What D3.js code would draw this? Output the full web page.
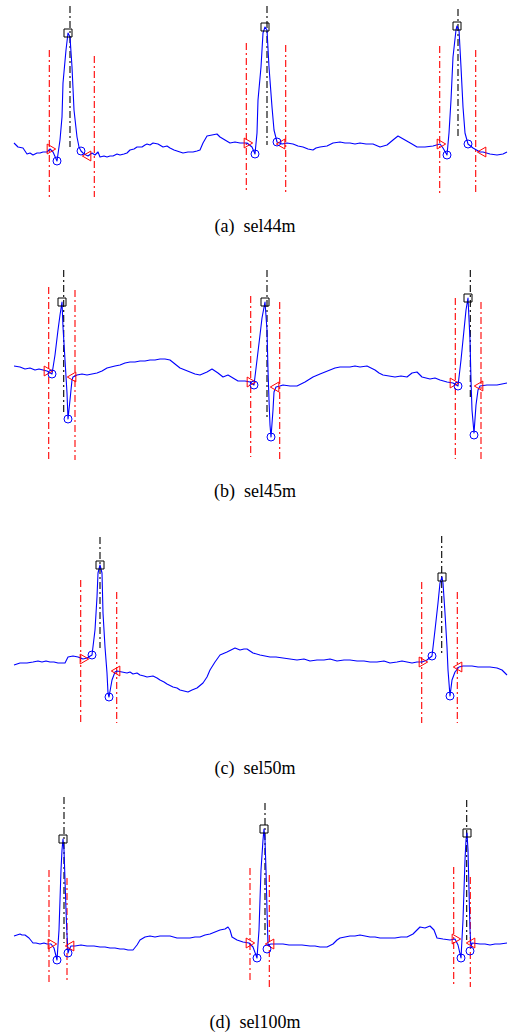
<!DOCTYPE html>
<html>
<head>
<meta charset="utf-8">
<script src="https://cdn.jsdelivr.net/npm/d3@7/dist/d3.min.js"></script>
<style>
  html, body { margin: 0; padding: 0; background: #fff; }
  svg { display: block; }
</style>
</head>
<body>
<svg id="fig" width="509" height="1034"></svg>
<script>
// ECG delineation results: signal in samples / mV, with detected wave points
// (onset, Q, R, S, offset) and the reference boundary / peak lines.

const captions = ["(a)  sel44m", "(b)  sel45m", "(c)  sel50m", "(d)  sel100m"];

// ---- sel44m ----
const sigA = [[0,0.07],[4,0.03],[9,0.02],[13,-0.04],[16,-0.03],[19,-0.05],[23,-0.03],[26,-0.03],[29,-0.02],[33,-0.02],[36,0.01],[39,-0.02],[43,-0.11],[46,0.10],[48,0.33],[49,0.67],[52,1.00],[54,1.17],[56,1.13],[58,0.83],[60,0.40],[63,0.13],[65,0.03],[67,-0.01],[69,-0.03],[72,-0.05],[74,-0.06],[78,-0.03],[81,-0.05],[84,-0.02],[86,-0.07],[90,-0.06],[93,-0.07],[96,-0.06],[99,-0.06],[103,-0.04],[106,-0.05],[110,-0.04],[113,-0.03],[116,0.00],[120,0.01],[123,0.03],[128,0.03],[131,0.05],[133,0.06],[136,0.05],[139,0.07],[144,0.06],[149,0.03],[153,0.04],[156,0.02],[160,0.00],[163,-0.01],[166,-0.02],[169,-0.03],[174,-0.02],[179,-0.02],[183,-0.01],[186,0.00],[189,0.07],[193,0.14],[198,0.15],[203,0.16],[206,0.13],[211,0.10],[216,0.07],[221,0.08],[226,0.07],[233,0.07],[238,0.03],[241,-0.04],[243,0.17],[244,0.50],[247,0.83],[249,1.17],[251,1.23],[253,1.20],[255,0.83],[258,0.43],[260,0.20],[263,0.08],[268,0.06],[273,0.07],[279,0.06],[284,0.04],[289,0.03],[294,0.01],[299,0.00],[302,0.02],[306,0.03],[313,0.04],[319,0.07],[326,0.08],[331,0.07],[336,0.07],[341,0.06],[346,0.07],[352,0.06],[359,0.06],[366,0.03],[373,0.05],[379,0.10],[384,0.14],[391,0.10],[398,0.06],[403,0.03],[411,0.03],[419,0.04],[426,0.06],[429,0.02],[433,-0.05],[435,0.17],[437,0.50],[439,0.93],[442,1.20],[443,1.24],[445,1.20],[447,0.83],[449,0.43],[451,0.17],[454,0.06],[459,0.02],[466,-0.02],[469,-0.02],[476,-0.04],[483,-0.05],[489,-0.04],[493,-0.02]];
const onA  = [[36,0.01],[233,0.07],[426,0.06]];
const qA   = [[43,-0.11],[241,-0.04],[433,-0.05]];
const rA   = [[54,1.17],[251,1.23],[443,1.24]];
const sA   = [[67,-0.01],[263,0.08],[454,0.06]];
const offA = [[74,-0.06],[268,0.06],[469,-0.02]];
// boundary lines: [sample, top mV, bottom mV]
const bndA  = [[35.3,1.00,-0.47],[80.3,0.94,-0.47],[232.3,1.07,-0.40],[271.7,1.05,-0.42],[425.7,1.04,-0.43],[461.7,1.00,-0.45]];
const peakA = [[56,1.44,0.03],[253,1.44,0.05],[444,1.41,0.12]];

// ---- sel45m ----
const sigB = [[0,0.09],[6,0.08],[11,0.06],[16,0.07],[21,0.05],[25,0.06],[29,0.05],[33,0.04],[38,0.01],[41,0.20],[44,0.45],[46,0.60],[48,0.73],[49,0.48],[51,0.15],[53,-0.18],[54,-0.44],[56,-0.25],[58,-0.05],[59,-0.02],[63,0.00],[68,0.01],[73,0.00],[78,0.01],[83,0.02],[88,0.04],[93,0.07],[97,0.08],[101,0.09],[106,0.10],[111,0.12],[116,0.13],[121,0.13],[126,0.14],[131,0.14],[136,0.15],[141,0.15],[146,0.16],[151,0.16],[156,0.15],[161,0.11],[166,0.07],[171,0.05],[176,0.03],[181,0.01],[186,0.00],[193,0.03],[198,0.06],[204,0.02],[209,-0.02],[214,0.00],[219,-0.03],[224,-0.06],[231,-0.06],[236,-0.07],[240,-0.10],[243,0.15],[246,0.40],[248,0.57],[251,0.73],[253,0.45],[254,0.05],[255,-0.25],[256,-0.50],[257,-0.62],[259,-0.35],[260,-0.17],[262,-0.12],[266,-0.11],[269,-0.10],[276,-0.11],[283,-0.11],[291,-0.07],[299,-0.02],[306,0.01],[311,0.03],[316,0.05],[321,0.07],[326,0.08],[331,0.08],[336,0.08],[341,0.09],[346,0.08],[353,0.09],[357,0.07],[361,0.05],[365,0.02],[369,0.00],[375,-0.01],[381,-0.02],[387,-0.01],[393,-0.02],[398,0.02],[403,0.03],[408,-0.02],[412,-0.03],[416,-0.04],[421,-0.03],[426,-0.05],[433,-0.07],[439,-0.08],[444,-0.11],[447,0.15],[450,0.45],[452,0.65],[454,0.77],[456,0.35],[457,-0.05],[458,-0.35],[460,-0.58],[462,-0.30],[464,-0.15],[466,-0.11],[473,-0.10],[478,-0.10],[483,-0.10],[488,-0.09],[493,-0.08]];
const onB  = [[33,0.04],[236,-0.07],[439,-0.08]];
const qB   = [[38,0.01],[240,-0.10],[444,-0.11]];
const rB   = [[48,0.73],[251,0.73],[454,0.77]];
const sB   = [[54,-0.44],[257,-0.62],[460,-0.60]];
const offB = [[59,-0.02],[262,-0.12],[466,-0.11]];
const bndB  = [[34.7,0.88,-0.85],[61,0.85,-0.85],[236.7,0.79,-0.82],[265.7,0.73,-0.85],[441.3,0.77,-0.84],[467,0.73,-0.85]];
const peakB = [[49.7,1.05,-0.38],[253,1.05,-0.42],[456.3,1.05,-0.25]];

// ---- sel50m ----
const sigC = [[0,-0.05],[6,-0.03],[13,-0.03],[19,-0.02],[24,-0.01],[28,-0.02],[32,-0.01],[36,-0.02],[40,-0.02],[44,-0.03],[51,-0.03],[54,0.03],[59,0.04],[64,0.03],[69,0.01],[73,0.02],[78,0.05],[81,0.30],[83,0.63],[84,0.87],[86,0.95],[88,0.87],[89,0.47],[91,0.13],[93,-0.13],[94,-0.33],[95,-0.37],[98,-0.20],[101,-0.12],[103,-0.11],[108,-0.12],[113,-0.13],[116,-0.12],[119,-0.14],[123,-0.13],[126,-0.15],[130,-0.16],[133,-0.17],[139,-0.16],[143,-0.18],[146,-0.20],[150,-0.22],[153,-0.24],[159,-0.27],[163,-0.28],[166,-0.30],[170,-0.31],[174,-0.32],[178,-0.30],[183,-0.28],[189,-0.23],[193,-0.17],[196,-0.10],[201,-0.02],[206,0.05],[213,0.08],[217,0.10],[221,0.12],[226,0.10],[230,0.11],[233,0.11],[239,0.07],[246,0.05],[251,0.04],[256,0.03],[262,0.03],[269,0.02],[276,0.01],[283,0.00],[290,0.01],[296,-0.01],[303,0.00],[310,0.00],[316,0.01],[323,-0.01],[330,0.00],[336,0.00],[343,-0.01],[350,-0.01],[356,-0.02],[363,-0.02],[370,-0.01],[376,-0.03],[383,-0.02],[388,-0.01],[393,-0.02],[398,-0.03],[403,-0.02],[408,-0.02],[413,0.00],[418,0.04],[421,0.30],[424,0.57],[426,0.77],[428,0.83],[429,0.77],[431,0.47],[433,0.13],[434,-0.10],[436,-0.36],[438,-0.20],[441,-0.12],[445,-0.07],[449,-0.06],[453,-0.06],[458,-0.06],[464,-0.07],[469,-0.07],[476,-0.07],[483,-0.08],[488,-0.10],[493,-0.15]];
const onC  = [[69,0.01],[408,-0.02]];
const qC   = [[78,0.05],[418,0.04]];
const rC   = [[86,0.95],[428,0.83]];
const sC   = [[95,-0.37],[436,-0.36]];
const offC = [[103,-0.11],[445,-0.07]];
const bndC  = [[66.7,0.80,-0.63],[102.7,0.68,-0.63],[407.7,0.78,-0.63],[443.3,0.68,-0.63]];
const peakC = [[86,1.23,0.12],[427.7,1.24,0.07]];

// ---- sel100m ----
const sigD = [[0,0.04],[3,0.05],[6,0.06],[8,0.05],[11,0.05],[15,0.02],[19,-0.03],[22,-0.03],[26,-0.04],[30,-0.03],[33,-0.04],[37,-0.04],[40,-0.08],[43,-0.20],[45,0.10],[46,0.40],[47,0.70],[48,0.90],[49,1.01],[50,0.90],[51,0.60],[52,0.30],[53,0.05],[54,-0.13],[55,-0.10],[57,-0.06],[61,-0.06],[67,-0.05],[73,-0.06],[80,-0.06],[86,-0.07],[91,-0.07],[96,-0.08],[101,-0.08],[106,-0.09],[110,-0.09],[114,-0.10],[119,-0.10],[123,-0.05],[126,0.00],[131,0.03],[136,0.04],[141,0.03],[146,0.04],[151,0.04],[156,0.04],[163,0.02],[169,0.02],[176,0.02],[181,0.03],[186,0.03],[191,0.05],[196,0.06],[201,0.08],[206,0.10],[211,0.11],[214,0.13],[216,0.10],[218,0.03],[223,0.00],[229,-0.02],[235,-0.03],[239,-0.07],[243,-0.18],[245,0.10],[246,0.40],[247,0.70],[249,1.00],[250,1.11],[251,1.00],[252,0.70],[253,0.30],[254,-0.05],[257,-0.04],[263,-0.04],[269,-0.04],[275,-0.05],[281,-0.05],[288,-0.05],[296,-0.06],[301,-0.06],[306,-0.07],[313,-0.07],[319,-0.04],[323,0.00],[326,0.02],[331,0.03],[336,0.04],[341,0.04],[346,0.05],[351,0.04],[356,0.03],[361,0.03],[366,0.02],[373,0.02],[381,0.02],[387,0.03],[393,0.03],[399,0.06],[403,0.10],[406,0.13],[411,0.12],[416,0.14],[420,0.10],[423,0.02],[429,0.01],[436,0.00],[441,0.01],[444,-0.05],[447,-0.18],[449,0.20],[450,0.50],[451,0.80],[452,1.00],[453,1.07],[454,0.90],[455,0.50],[456,0.10],[457,-0.08],[458,-0.03],[466,-0.04],[471,-0.04],[476,-0.05],[481,-0.04],[486,-0.04],[493,-0.03]];
const onD  = [[37,-0.04],[235,-0.03],[441,0.01]];
const qD   = [[43,-0.20],[243,-0.18],[447,-0.18]];
const rD   = [[49,1.01],[250,1.11],[453,1.07]];
const sD   = [[54,-0.13],[253,-0.09],[456,-0.11]];
const offD = [[57,-0.06],[257,-0.04],[458,-0.03]];
const bndD  = [[35,0.70,-0.43],[53,0.62,-0.43],[236,0.72,-0.42],[255.3,0.65,-0.47],[439.7,0.73,-0.47],[456.3,0.63,-0.47]];
const peakD = [[50,1.43,-0.03],[251,1.37,0.02],[452.7,1.40,0.00]];

const panels = [
  { sig: sigA, on: onA, q: qA, r: rA, s: sA, off: offA, bnd: bndA, peak: peakA },
  { sig: sigB, on: onB, q: qB, r: rB, s: sB, off: offB, bnd: bndB, peak: peakB },
  { sig: sigC, on: onC, q: qC, r: rC, s: sC, off: offC, bnd: bndC, peak: peakC },
  { sig: sigD, on: onD, q: qD, r: rD, s: sD, off: offD, bnd: bndD, peak: peakD }
];

// layout
const panelTop = [0, 225, 510, 790];
const captionY = [226, 491, 768, 1022];

const svg = d3.select("#fig");
const x = d3.scaleLinear().domain([0, 495]).range([14, 509]);
const y = d3.scaleLinear().domain([-0.5, 1.5]).range([200, 0]);

const line = d3.line().x(d => x(d[0])).y(d => y(d[1]));
const triSym = d3.symbol().type(d3.symbolTriangle).size(42);
const sqSym = d3.symbol().type(d3.symbolSquare).size(64);

panels.forEach((p, i) => {
  const g = svg.append("g").attr("transform", `translate(0,${panelTop[i]})`);

  // reference QRS boundaries
  g.selectAll("line.bnd").data(p.bnd).join("line")
    .attr("class", "bnd")
    .attr("x1", d => x(d[0])).attr("x2", d => x(d[0]))
    .attr("y1", d => y(d[1])).attr("y2", d => y(d[2]))
    .attr("stroke", "#ff0000").attr("stroke-width", 1.1)
    .attr("stroke-dasharray", "7,3,2,3");

  // reference R peaks
  g.selectAll("line.pk").data(p.peak).join("line")
    .attr("class", "pk")
    .attr("x1", d => x(d[0])).attr("x2", d => x(d[0]))
    .attr("y1", d => y(d[1])).attr("y2", d => y(d[2]))
    .attr("stroke", "#000").attr("stroke-width", 1.1)
    .attr("stroke-dasharray", "7,3,2,3");

  // ECG trace
  g.append("path").datum(p.sig)
    .attr("d", line)
    .attr("fill", "none").attr("stroke", "#0000ff").attr("stroke-width", 1.1)
    .attr("stroke-linejoin", "round");

  // QRS onset (right-pointing) and offset (left-pointing) triangles
  g.selectAll("path.on").data(p.on).join("path")
    .attr("class", "on").attr("d", triSym)
    .attr("transform", d => `translate(${x(d[0])},${y(d[1])}) rotate(90)`)
    .attr("fill", "none").attr("stroke", "#ff0000").attr("stroke-width", 1);
  g.selectAll("path.off").data(p.off).join("path")
    .attr("class", "off").attr("d", triSym)
    .attr("transform", d => `translate(${x(d[0])},${y(d[1])}) rotate(-90)`)
    .attr("fill", "none").attr("stroke", "#ff0000").attr("stroke-width", 1);

  // Q and S points
  g.selectAll("circle.qs").data(p.q.concat(p.s)).join("circle")
    .attr("class", "qs")
    .attr("cx", d => x(d[0])).attr("cy", d => y(d[1])).attr("r", 4)
    .attr("fill", "none").attr("stroke", "#0000ff").attr("stroke-width", 1);

  // R peaks
  g.selectAll("path.r").data(p.r).join("path")
    .attr("class", "r").attr("d", sqSym)
    .attr("transform", d => `translate(${x(d[0])},${y(d[1])})`)
    .attr("fill", "none").attr("stroke", "#000").attr("stroke-width", 1);

  svg.append("text")
    .attr("x", 255).attr("y", captionY[i])
    .attr("text-anchor", "middle").attr("dominant-baseline", "central")
    .attr("font-family", "'Liberation Serif', 'Times New Roman', serif")
    .attr("font-size", 18)
    .style("white-space", "pre")
    .text(captions[i]);
});
</script>
</body>
</html>
